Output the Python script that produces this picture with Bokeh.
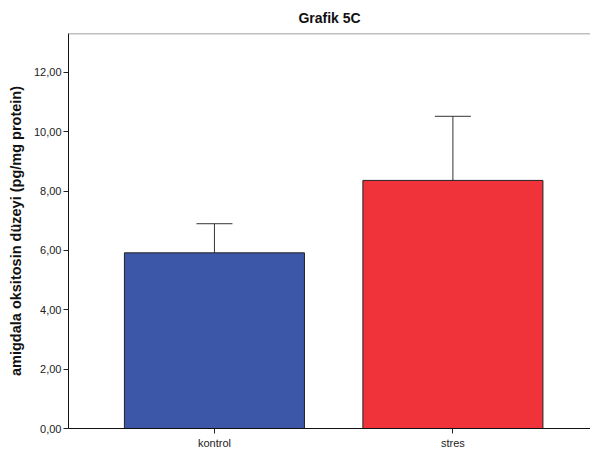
from bokeh.plotting import figure
from bokeh.models import (ColumnDataSource, Range1d, FixedTicker, Whisker,
                          TeeHead, Span)
from bokeh.embed import file_html
from bokeh.resources import INLINE

# Group means and upper error (mean + error) for amygdala oxytocin
groups = ["kontrol", "stres"]
group_pos = [1, 2]
means = [5.92, 8.36]
errors = [0.98, 2.16]
bar_colors = ["#3D57A8", "#F0323A"]

y_ticks = [0, 2, 4, 6, 8, 10, 12]
y_tick_labels = ["0,00", "2,00", "4,00", "6,00", "8,00", "10,00", "12,00"]

upper = [m + e for m, e in zip(means, errors)]

src = ColumnDataSource(dict(x=group_pos, top=means, upper=upper,
                            color=bar_colors, name=groups))

p = figure(width=590, height=451, output_backend="svg", toolbar_location=None,
           x_range=Range1d(0.388, 2.577), y_range=Range1d(0, 13.31),
           title="Grafik 5C",
           min_border_left=68, min_border_right=0, min_border_top=33,
           min_border_bottom=23)

p.title.align = "center"
p.title.text_font = "Liberation Sans"
p.title.text_font_size = "14px"
p.title.text_font_style = "bold"
p.title.text_color = "#111111"
p.title.standoff = 15

p.vbar(x="x", top="top", width=0.755, bottom=0, source=src,
       fill_color="color", line_color="#222222", line_width=1)

p.add_layout(Whisker(source=src, base="x", lower="top", upper="upper",
                     dimension="height", line_color="#333333", line_width=1,
                     lower_head=None,
                     upper_head=TeeHead(size=36, line_color="#333333",
                                        line_width=1)))

# Top frame edge only
p.outline_line_color = None
p.add_layout(Span(location=13.31, dimension="width",
                  line_color="#808080", line_width=1.5))

p.xgrid.visible = False
p.ygrid.visible = False

p.yaxis.ticker = FixedTicker(ticks=y_ticks)
p.yaxis.major_label_overrides = {t: l for t, l in zip(y_ticks, y_tick_labels)}
p.yaxis.minor_tick_line_color = None
p.yaxis.major_tick_in = 0
p.yaxis.major_tick_out = 5
p.yaxis.major_label_standoff = 2
p.yaxis.axis_label = "amigdala oksitosin düzeyi (pg/mg protein)"
p.yaxis.axis_label_text_font = "Liberation Sans"
p.yaxis.axis_label_text_font_size = "14.5px"
p.yaxis.axis_label_text_font_style = "bold"
p.yaxis.axis_label_text_color = "#111111"
p.yaxis.axis_label_standoff = 7

p.xaxis.ticker = FixedTicker(ticks=group_pos)
p.xaxis.major_label_overrides = {t: l for t, l in zip(group_pos, groups)}
p.xaxis.minor_tick_line_color = None
p.xaxis.major_tick_in = 0
p.xaxis.major_tick_out = 5
p.xaxis.major_label_standoff = 3

for ax in (p.xaxis, p.yaxis):
    ax.axis_line_color = "#111111"
    ax.axis_line_width = 1
    ax.major_tick_line_color = "#222222"
    ax.major_label_text_font = "Liberation Sans"
    ax.major_label_text_font_size = "11px"
    ax.major_label_text_color = "#222222"

open("out.html", "w").write(file_html(p, INLINE))
